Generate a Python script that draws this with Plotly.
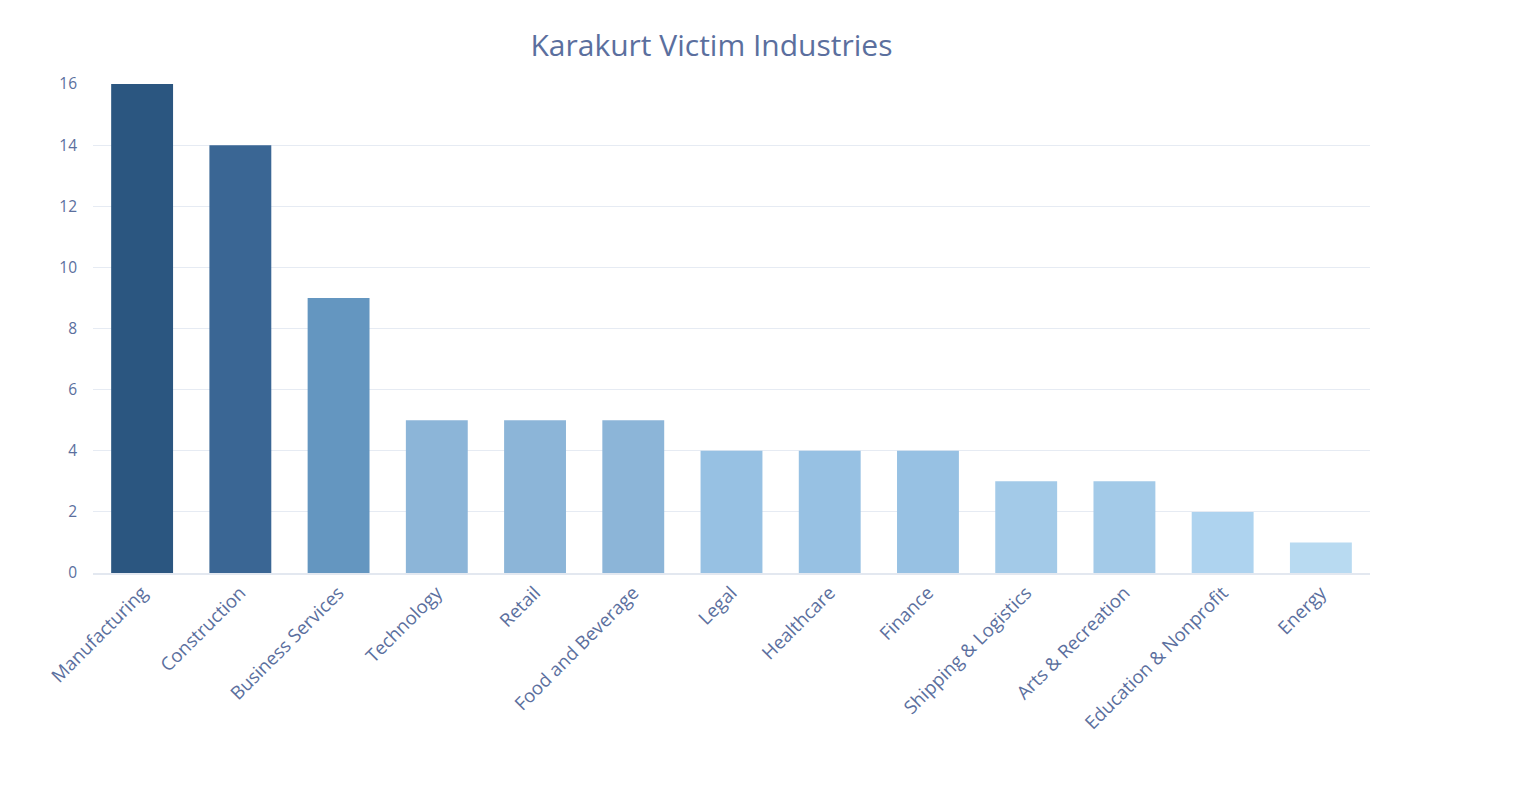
import plotly.graph_objects as go

categories = ["Manufacturing", "Construction", "Business Services", "Technology", "Retail",
              "Food and Beverage", "Legal", "Healthcare", "Finance", "Shipping & Logistics",
              "Arts & Recreation", "Education & Nonprofit", "Energy"]
values = [16, 14, 9, 5, 5, 5, 4, 4, 4, 3, 3, 2, 1]
bar_colors = ["#2b5680", "#3a6694", "#6496c0", "#8cb5d8", "#8cb5d8", "#8cb5d8",
              "#97c1e3", "#97c1e3", "#97c1e3", "#a3cae8", "#a3cae8", "#aed3ef", "#b8daf1"]
y_ticks = [0, 2, 4, 6, 8, 10, 12, 14, 16]

text_color = "#5b6f9e"
font_family = "'Open Sans', Lato, sans-serif"

fig = go.Figure(go.Bar(x=categories, y=values, marker=dict(color=bar_colors, line=dict(width=0))))

fig.update_layout(
    width=1536, height=787,
    paper_bgcolor="white", plot_bgcolor="white",
    margin=dict(l=85, r=174, t=76, b=222),
    bargap=0.37,
    showlegend=False,
    font=dict(family=font_family, color=text_color),
    title=dict(text="Karakurt Victim Industries", x=0.458, xanchor="center", y=0.952, yanchor="middle",
               font=dict(size=30, color=text_color, family=font_family)),
)
fig.update_xaxes(tickangle=-45, tickfont=dict(size=18.5, color=text_color), showline=True,
                 linecolor="#e3e8f0", linewidth=1.5, ticks="", showgrid=False)
fig.update_yaxes(range=[0, 16], tickvals=y_ticks, tickfont=dict(size=15.5, color=text_color),
                 gridcolor="#e6ebf3", gridwidth=1, zeroline=False, ticks="", ticklabelstandoff=15)

fig.write_html("out.html")
